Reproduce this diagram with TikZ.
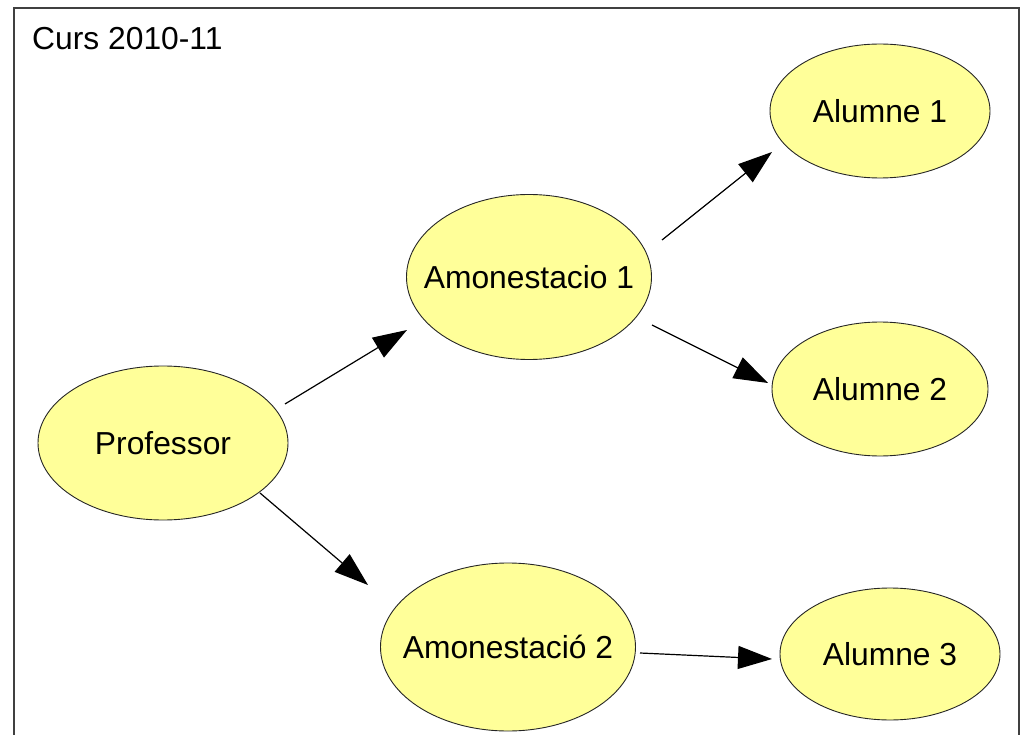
\documentclass[tikz,border=0pt]{standalone}
\usepackage{fontspec}
\setmainfont{Liberation Sans}
\usetikzlibrary{shapes.geometric,arrows.meta,calc}
\definecolor{ellfill}{HTML}{FFFF99}
\definecolor{framecol}{HTML}{404040}
\newcommand{\btext}[1]{\makebox[0pt]{#1}}
\tikzset{
  bubble/.style={ellipse, draw=black!85, line width=0.9pt, fill=ellfill, inner sep=0pt, font=\fontsize{31.8}{36}\selectfont},
  conn/.style={line width=1.2pt, -{Triangle[length=34pt,width=23pt]}},
}
\begin{document}
\begin{tikzpicture}[x=1pt,y=-1pt]
\useasboundingbox (0,0) rectangle (1020,735);
\begin{scope}
\clip (0,0) rectangle (1020,735);
\draw[framecol, line width=1.6pt] (14,740) -- (14,8) -- (1019,8) -- (1019,740);
\node[anchor=west, inner sep=0pt, font=\fontsize{31.8}{36}\selectfont] (title) at (32,39) {Curs 2010-11};
\node[bubble, minimum width=220pt, minimum height=134pt] (al1) at (880,111) {\btext{Alumne 1}};
\node[bubble, minimum width=245pt, minimum height=165pt] (am1) at (529,277) {\btext{Amonestacio 1}};
\node[bubble, minimum width=216pt, minimum height=134pt] (al2) at (880,389) {\btext{Alumne 2}};
\node[bubble, minimum width=250pt, minimum height=154pt] (prof) at (163,443) {\btext{Professor}};
\node[bubble, minimum width=255pt, minimum height=168pt] (am2) at (508,647) {\btext{Amonestació 2}};
\node[bubble, minimum width=220pt, minimum height=132pt] (al3) at (890,654) {\btext{Alumne 3}};
\draw[conn] ($(prof)+(122,-39)$) -- ($(am1)+(-122,53)$);
\draw[conn] ($(am1)+(133,-37)$) -- ($(al1)+(-108,41)$);
\draw[conn] ($(am1)+(123,48)$) -- ($(al2)+(-112,-6)$);
\draw[conn] ($(prof)+(97,50)$) -- ($(am2)+(-140,-62)$);
\draw[conn] ($(am2)+(132,6)$) -- ($(al3)+(-118,5)$);
\end{scope}
\end{tikzpicture}
\end{document}
